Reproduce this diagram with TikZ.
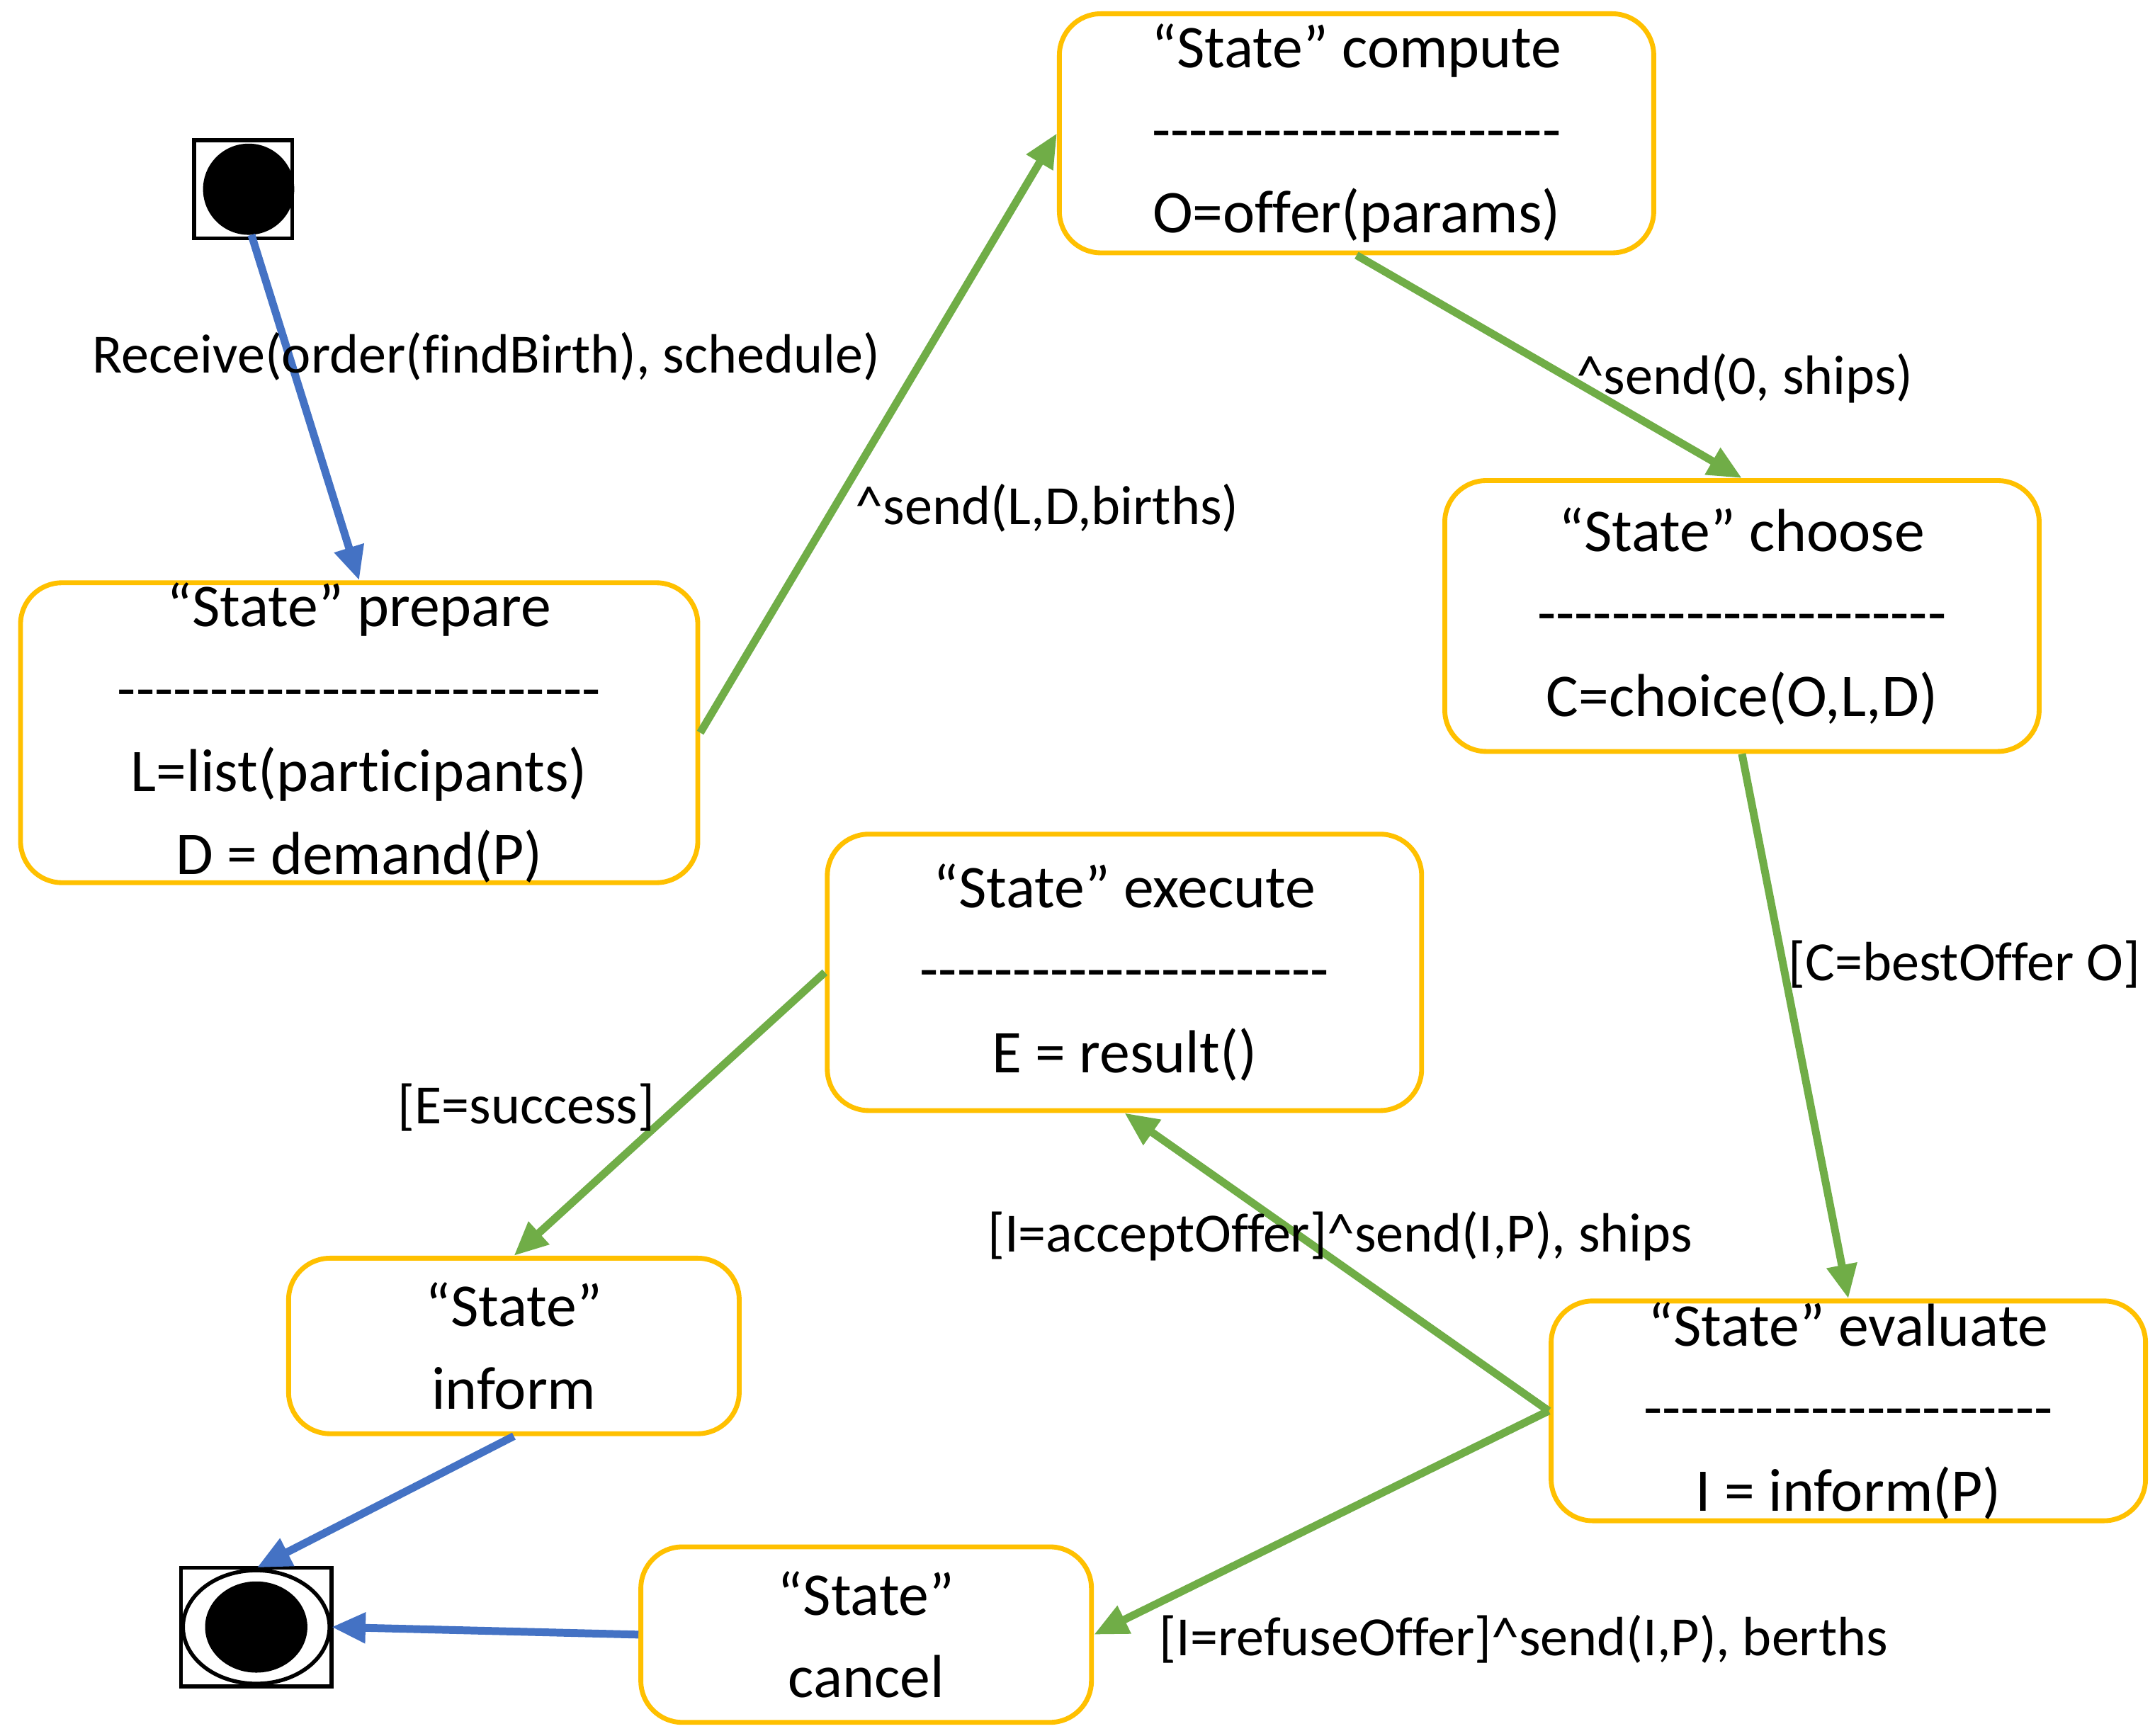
\documentclass[tikz,border=0pt]{standalone}
\usepackage{fontspec}
\setmainfont{Carlito}[Ligatures={TeXOff,NoCommon}]
\usetikzlibrary{arrows.meta,positioning,calc}
\definecolor{boxorange}{HTML}{FFC000}
\definecolor{flowgreen}{HTML}{70AD47}
\definecolor{flowblue}{HTML}{4472C4}
\tikzset{
  state/.style={draw=boxorange,line width=1pt,rounded corners=0.3cm,align=center,
    font=\fontsize{12.5}{17}\selectfont,inner sep=0pt},
  go/.style={draw=flowgreen,line width=1.6pt,-{Triangle[length=7pt,width=6pt]}},
  blu/.style={draw=flowblue,line width=1.6pt,-{Triangle[length=7pt,width=6pt]}},
  lbl/.style={font=\fontsize{11.4}{13}\selectfont,inner sep=0pt}
}
\begin{document}
\begin{tikzpicture}[x=0.01cm,y=-0.01cm]
\useasboundingbox (0,0) rectangle (1560,1256.5);
% states
\node[state,minimum width=4.3cm,minimum height=1.73cm] (compute) at (982,96.5)
  {“State” compute\\----------------------\\O=offer(params)};
\node[state,minimum width=4.9cm,minimum height=2.17cm] (prepare) at (260,530.5)
  {“State” prepare\\--------------------------\\L=list(participants)\\D = demand(P)};
\node[state,minimum width=4.3cm,minimum height=1.96cm] (choose) at (1261,446)
  {“State” choose\\----------------------\\C=choice(O,L,D)};
\node[state,minimum width=4.3cm,minimum height=2.0cm] (execute) at (814,704)
  {“State” execute\\----------------------\\E = result()};
\node[state,minimum width=3.26cm,minimum height=1.27cm] (inform) at (372,974.5)
  {“State”\\inform};
\node[state,minimum width=4.3cm,minimum height=1.59cm] (evaluate) at (1338,1021.5)
  {“State” evaluate\\----------------------\\I = inform(P)};
\node[state,minimum width=3.26cm,minimum height=1.27cm] (cancel) at (627,1183.5)
  {“State”\\cancel};
% start and end
\node[draw,line width=0.8pt,minimum size=0.71cm,inner sep=0pt] (start) at (176,137) {};
\fill (180,137) circle (0.33cm);
\node[draw,line width=0.8pt,minimum width=1.09cm,minimum height=0.86cm,inner sep=0pt] (stop) at (185.5,1178) {};
\draw[line width=0.8pt] (185.5,1178) ellipse (0.53cm and 0.41cm);
\fill (185.5,1178) ellipse (0.37cm and 0.33cm);
\coordinate (stopN) at (186,1135);
\coordinate (stopE) at (240,1178);
% transitions
\draw[blu] (182,170) -- (prepare.north);
\draw[go] (prepare.east) -- (compute.west);
\draw[go] (compute.south) -- (choose.north);
\draw[go] (choose.south) -- (evaluate.north);
\draw[go] (evaluate.west) -- (execute.south);
\draw[go] (evaluate.west) -- (cancel.east);
\draw[go] (execute.west) -- (inform.north);
\draw[blu] (inform.south) -- (stopN);
\draw[blu] (cancel.west) -- (stopE);
% labels
\node[lbl] at (352,258) {Receive(order(findBirth), schedule)};
\node[lbl] at (758,368) {\textasciicircum send(L,D,births)};
\node[lbl] at (1263,274) {\textasciicircum send(0, ships)};
\node[lbl] at (1422,698) {[C=bestOffer O]};
\node[lbl] at (970,895) {[I=acceptOffer]\textasciicircum send(I,P), ships};
\node[lbl] at (1103,1187) {[I=refuseOffer]\textasciicircum send(I,P), berths};
\node[lbl] at (381,802) {[E=success]};
\end{tikzpicture}
\end{document}
